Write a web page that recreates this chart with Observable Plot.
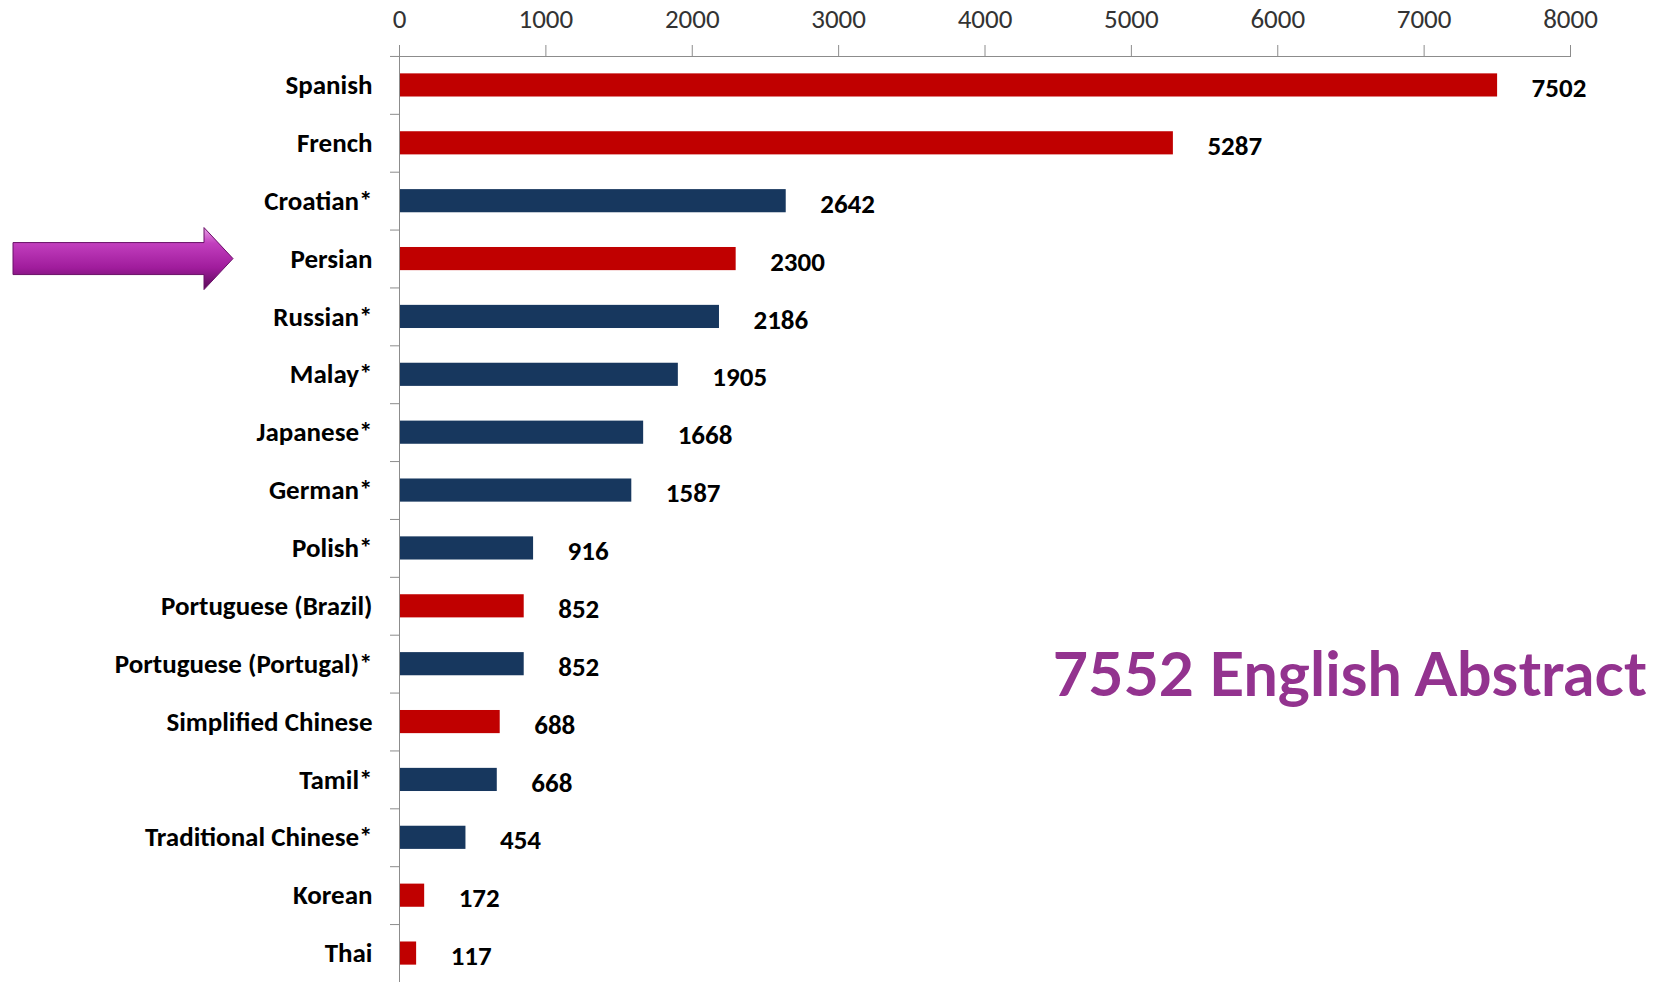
<!DOCTYPE html>
<html><head><meta charset="utf-8">
<script src="https://cdn.jsdelivr.net/npm/d3@7"></script>
<script src="https://cdn.jsdelivr.net/npm/@observablehq/plot@0.6"></script>
<style>
html,body{margin:0;padding:0;background:#fff;}
#chart{width:1663px;height:982px;overflow:hidden;}
</style></head><body><div id="chart"></div>
<script>
const languages = ["Spanish","French","Croatian*","Persian","Russian*","Malay*","Japanese*","German*","Polish*","Portuguese (Brazil)","Portuguese (Portugal)*","Simplified Chinese","Tamil*","Traditional Chinese*","Korean","Thai"];
const counts = [7502,5287,2642,2300,2186,1905,1668,1587,916,852,852,688,668,454,172,117];
const groups = ["plain","plain","asterisk","plain","asterisk","asterisk","asterisk","asterisk","asterisk","plain","asterisk","plain","asterisk","asterisk","plain","plain"];
const xTicks = [0,1000,2000,3000,4000,5000,6000,7000,8000];
const annotationText = ["7552 English Abstract"];
const annotationRow = "Portuguese (Portugal)*";
const highlighted = "Persian";

const data = languages.map((l,i)=>({language:l, count:counts[i], group:groups[i]}));
const FONT = "Carlito, 'Liberation Sans Narrow', 'Arial Narrow', Lato, 'Liberation Sans', sans-serif";

function arrowMark(index, scales, values, dimensions) {
  const y = scales.y;
  const cy = y(highlighted) + (y.bandwidth ? y.bandwidth()/2 : 0);
  const g = d3.create("svg:g");
  const defs = g.append("defs");
  const grad = defs.append("linearGradient").attr("id","arrowGrad").attr("x1",0).attr("y1",0).attr("x2",0).attr("y2",1);
  grad.append("stop").attr("offset","0%").attr("stop-color","#e8a0e6");
  grad.append("stop").attr("offset","25%").attr("stop-color","#c23fbe");
  grad.append("stop").attr("offset","65%").attr("stop-color","#a01c9c");
  grad.append("stop").attr("offset","100%").attr("stop-color","#5a0a58");
  const left = 13, headBase = 204, tip = 233, sh = 16, hh = 31;
  const p = d3.path();
  p.moveTo(left, cy - sh); p.lineTo(headBase, cy - sh); p.lineTo(headBase, cy - hh);
  p.lineTo(tip, cy); p.lineTo(headBase, cy + hh); p.lineTo(headBase, cy + sh);
  p.lineTo(left, cy + sh); p.closePath();
  g.append("path").attr("d", p.toString()).attr("fill","url(#arrowGrad)").attr("stroke","#6a1068").attr("stroke-width",1);
  return g.node();
}

const chart = Plot.plot({
  width:1663, height:982, marginTop:56, marginLeft:399, marginRight:93, marginBottom:0,
  style:{fontFamily: FONT, fontSize:"27px", color:"#000", background:"#fff", overflow:"visible"},
  x:{domain:[0,8000], axis:null, label:null},
  y:{domain:languages, paddingInner:0.6, paddingOuter:0.3, round:false, axis:null, label:null},
  color:{domain:["plain","asterisk"], range:["#C00000","#17375E"]},
  marks:[
    Plot.barX(data,{x:"count", y:"language", fill:"group"}),
    Plot.frame({anchor:"top", stroke:"#8c8c8c"}),
    Plot.ruleX([0], {stroke:"#8c8c8c"}),
    Plot.axisX({anchor:"top", label:null, ticks:xTicks, tickSize:12, tickPadding:17, stroke:"#8c8c8c", fill:"#333", tickFormat:d3.format("d"), fontSize:27}),
    Plot.axisY({label:null, tickSize:9, tickFormat:()=>"", dy:-29, stroke:"#8c8c8c"}),
    Plot.axisY({label:null, tickSize:0, tickPadding:27, fill:"#000", fontWeight:"bold", fontSize:27}),
    Plot.text(data, {x:"count", y:"language", text:d=>String(d.count), dx:34, dy:3, textAnchor:"start", fontWeight:"bold", fontSize:27, fill:"#000"}),
    Plot.text(annotationText, {y:()=>annotationRow, text:d=>d, frameAnchor:"right", textAnchor:"end", dx:76, dy:12, fontSize:61, fill:"#93338f", fontWeight:700, fontFamily:"'Source Sans Pro', Lato, 'Noto Sans', sans-serif"}),
    arrowMark
  ]
});
document.getElementById("chart").appendChild(chart);
</script></body></html>
